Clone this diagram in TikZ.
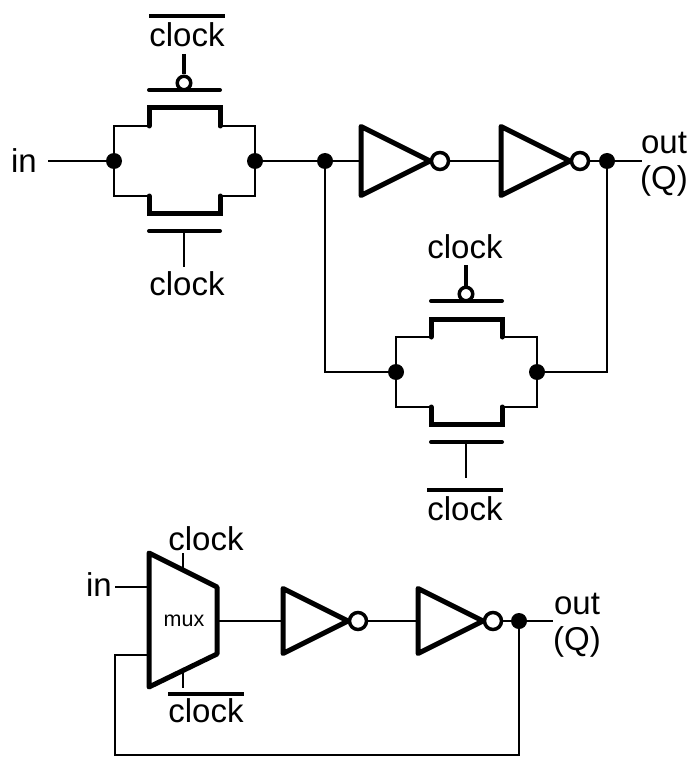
\documentclass[tikz,border=0pt]{standalone}
\usepackage{fontspec}
\setmainfont{Liberation Sans}
\usetikzlibrary{calc}
\tikzset{
	wire/.style={line width=2.2pt},
	heavy/.style={line width=5pt, line join=miter},
	bar/.style={line width=4pt, line cap=round},
	junction/.style={circle, fill=black, draw=none, inner sep=0pt, minimum size=16pt},
	bubble/.style={circle, fill=white, draw=black, line width=3.5pt, inner sep=0pt, minimum size=#1},
	label/.style={inner sep=0pt, font=\fontsize{33}{36}\selectfont}
}
% Transmissionsgatter: Name, linker Knoten bei (x,y)
\newcommand{\passgate}[3]{
	\node[junction] (#1-l) at (#2,#3) {};
	\node[junction] (#1-r) at (#2+141,#3) {};
	\draw[wire] (#1-l) |- (#2+35,#3-35);
	\draw[wire] (#1-l) |- (#2+35,#3+35);
	\draw[wire] (#1-r) |- (#2+106,#3-35);
	\draw[wire] (#1-r) |- (#2+106,#3+35);
	\draw[heavy, line cap=round] (#2+35,#3-35) -- (#2+35,#3-53) -- (#2+106,#3-53) -- (#2+106,#3-35);
	\draw[heavy, line cap=round] (#2+35,#3+35) -- (#2+35,#3+52) -- (#2+106,#3+52) -- (#2+106,#3+35);
	% Gates
	\coordinate (#1-ptop) at (#2+70,#3-107);
	\coordinate (#1-nbot) at (#2+70,#3+106);
	\node[bubble=13.5pt] (#1-bub) at (#2+70,#3-78) {};
	\draw[line width=3.5pt] (#1-ptop) -- (#1-bub);
	\draw[bar] (#2+35,#3-71) -- (#2+106,#3-71);
	\draw[wire] (#2+70,#3+70) -- (#1-nbot);
	\draw[bar] (#2+35,#3+70) -- (#2+106,#3+70);
}
% Inverter: Name, linke Kante bei (x,y), Breite
\newcommand{\notgate}[4]{
	\coordinate (#1-in) at (#2,#3);
	\draw[heavy, line join=round] (#2,#3-#4/2) -- (#2+#4,#3) -- (#2,#3+#4/2) -- cycle;
	\node[bubble=17pt] (#1-bub) at (#2+#4+10,#3) {};
}
\begin{document}
\begin{tikzpicture}[x=1pt, y=-1pt]
	\useasboundingbox (0,0) rectangle (700,770);

	% Latch mit Transmissionsgattern
	\passgate{gateA}{114}{161}
	\passgate{gateB}{396}{372}
	\notgate{invA}{361}{161}{69}
	\notgate{invB}{501}{161}{69}
	\node[junction] (split) at (325,161) {};
	\node[junction] (outdot) at (607,161) {};
	\node[label] (in) at (24,161) {in};
	\node[label] (out) at (664,143) {out};
	\node[label] (Q) at (664,181) {(Q)};
	\coordinate (inend) at (48,161);
	\coordinate (outend) at (642,161);
	\draw[wire] (inend) -- (gateA-l);
	\draw[wire] (gateA-r) -- (split);
	\draw[wire] (split) -- (invA-in);
	\draw[wire] (invA-bub) -- (invB-in);
	\draw[wire] (invB-bub) -- (outdot);
	\draw[wire] (outdot) -- (outend);
	\draw[wire] (split) |- (gateB-l);
	\draw[wire] (outdot) |- (gateB-r);

	% Beschriftung Gates
	\node[label] (clkbarA) at (187,35) {clock};
	\node[label] (clkA) at (187,284) {clock};
	\node[label] (clkB) at (465,247) {clock};
	\node[label] (clkbarB) at (465,509) {clock};
	\draw[bar, line cap=butt] ($(clkbarA.north west)+(0,-7)$) -- ($(clkbarA.north east)+(0,-7)$);
	\draw[bar, line cap=butt] ($(clkbarB.north west)+(0,-7)$) -- ($(clkbarB.north east)+(0,-7)$);

	% Latch mit Multiplexer
	\coordinate (muxA) at (149,553);
	\coordinate (muxB) at (217,587);
	\coordinate (muxC) at (217,654);
	\coordinate (muxD) at (149,687);
	\draw[heavy, line join=round] (muxA) -- (muxB) -- (muxC) -- (muxD) -- cycle;
	\node[inner sep=0pt, font=\fontsize{21.5}{24}\selectfont] (mux) at (184,621) {mux};
	\notgate{invC}{283}{621}{65}
	\notgate{invD}{418}{621}{65}
	\node[junction] (fbdot) at (519,621) {};
	\node[label] (in2) at (99,585) {in};
	\node[label] (out2) at (577,604) {out};
	\node[label] (Q2) at (577,642) {(Q)};
	\node[label] (clkC) at (206,539) {clock};
	\node[label] (clkbarC) at (206,711) {clock};
	\draw[bar, line cap=butt] ($(clkbarC.north west)+(0,-5)$) -- ($(clkbarC.north east)+(0,-5)$);
	\coordinate (in2end) at (115,587);
	\coordinate (out2end) at (553,621);
	\coordinate (fbcorner) at (115,755);
	\draw[wire] (in2end) -- (149,587);
	\draw[wire] (183,553) -- (183,570);
	\draw[wire] (183,671) -- (183,688);
	\draw[wire] (217,621) -- (invC-in);
	\draw[wire] (invC-bub) -- (invD-in);
	\draw[wire] (invD-bub) -- (fbdot);
	\draw[wire] (fbdot) -- (out2end);
	\draw[wire] (fbdot) |- (fbcorner) |- (149,655);
\end{tikzpicture}
\end{document}
